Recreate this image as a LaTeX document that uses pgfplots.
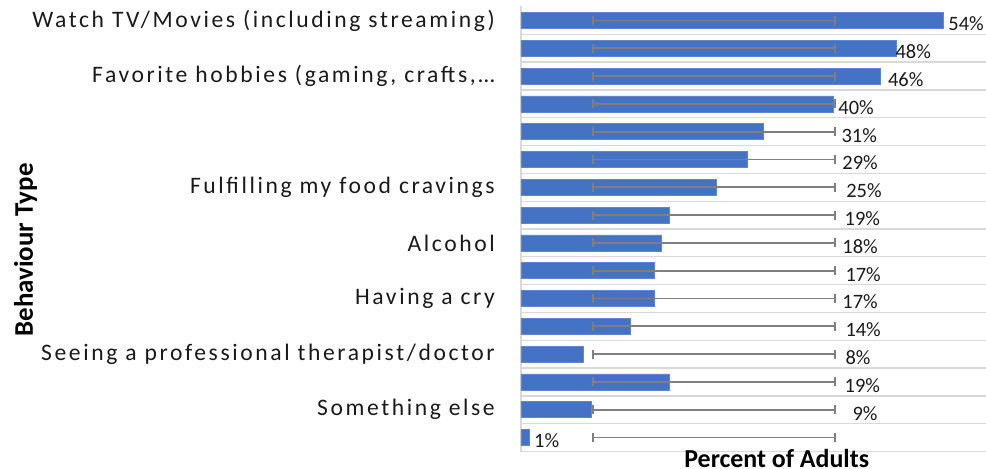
\documentclass[border=0pt]{standalone}
\usepackage{pgfplots}
\pgfplotsset{compat=1.18}
\usepackage{fontspec}
\setmainfont{Carlito}
\newfontfamily\spaced[LetterSpace=11]{Carlito}
\definecolor{barblue}{HTML}{4472C4}
\definecolor{gridgray}{HTML}{D9D9D9}
\definecolor{errgray}{HTML}{7F7F7F}
\definecolor{txt}{HTML}{1A1A1A}
\begin{document}
\begin{tikzpicture}
\begin{axis}[
  width=465bp, height=445bp, scale only axis,
  xmin=0, xmax=59.5, ymin=0.5, ymax=16.5,
  clip=false,
  axis lines*=left,
  axis line style={-, draw=gridgray, line width=1.3bp},
  xtick=\empty,
  ytick={1,...,16},
  yticklabels={{}, {Something else}, {}, {Seeing a professional therapist/doctor}, {}, {Having a cry}, {}, {Alcohol }, {}, {Fulfilling my food cravings}, {}, {}, {}, {Favorite hobbies (gaming, crafts,…}, {}, {Watch TV/Movies (including streaming)}},
  minor ytick={1.5,2.5,...,15.5},
  yminorgrids=true,
  minor grid style={draw=gridgray, line width=1.3bp},
  major tick length=0pt, minor tick length=0pt,
  yticklabel style={font=\spaced\fontsize{23.7}{28}\selectfont, text=txt, inner sep=0pt, xshift=-26bp},
  ylabel={Behaviour Type},
  ylabel style={font=\bfseries\fontsize{27}{32}\selectfont, text=black, at={(rel axis cs:-1.0495,0.453)}, anchor=base, inner sep=0pt},
  xlabel={Percent of Adults},
  xlabel style={font=\bfseries\fontsize{26}{31}\selectfont, text=black, at={(rel axis cs:0.55,0.006)}, anchor=north, inner sep=0pt},
]
\addplot[xbar, bar width=16bp, fill=barblue, draw=barblue!85!white, line width=0.6bp] coordinates {
(1,1) (9,2) (19,3) (8,4) (14,5) (17,6) (17,7) (18,8) (19,9) (25,10) (29,11) (31,12) (40,13) (46,14) (48,15) (54,16)};
\addplot[draw=none, mark=none, error bars/.cd, x dir=both, x explicit,
  error mark=|,
  error bar style={draw=errgray, line width=1.7bp, solid},
  error mark options={draw=errgray, line width=1.5bp, mark size=4.5bp, solid}]
coordinates {
(24.7,1) +- (15.5,0) (24.7,2) +- (15.5,0) (24.7,3) +- (15.5,0) (24.7,4) +- (15.5,0)
(24.7,5) +- (15.5,0) (24.7,6) +- (15.5,0) (24.7,7) +- (15.5,0) (24.7,8) +- (15.5,0)
(24.7,9) +- (15.5,0) (24.7,10) +- (15.5,0) (24.7,11) +- (15.5,0) (24.7,12) +- (15.5,0)
(24.7,13) +- (15.5,0) (24.7,14) +- (15.5,0) (24.7,15) +- (15.5,0) (24.7,16) +- (15.5,0)};
\addplot[draw=none, mark=none, nodes near coords, point meta=explicit symbolic,
  nodes near coords style={anchor=west, inner sep=0pt, font=\fontsize{20.5}{24}\selectfont, text=txt, yshift=-3.5bp}]
coordinates {
(1.66,1) [1\%] (42.4,2) [9\%] (41.4,3) [19\%] (41.5,4) [8\%] (41.5,5) [14\%] (41.1,6) [17\%]
(41.5,7) [17\%] (41.1,8) [18\%] (41.4,9) [19\%] (41.6,10) [25\%] (41.1,11) [29\%] (41.0,12) [31\%]
(40.6,13) [40\%] (46.95,14) [46\%] (47.9,15) [48\%] (54.67,16) [54\%]};
\end{axis}
\pgfresetboundingbox
\path[use as bounding box] (current axis.south west) ++(-521bp,-17.5bp) rectangle ++(986bp,469bp);
\end{tikzpicture}
\end{document}
